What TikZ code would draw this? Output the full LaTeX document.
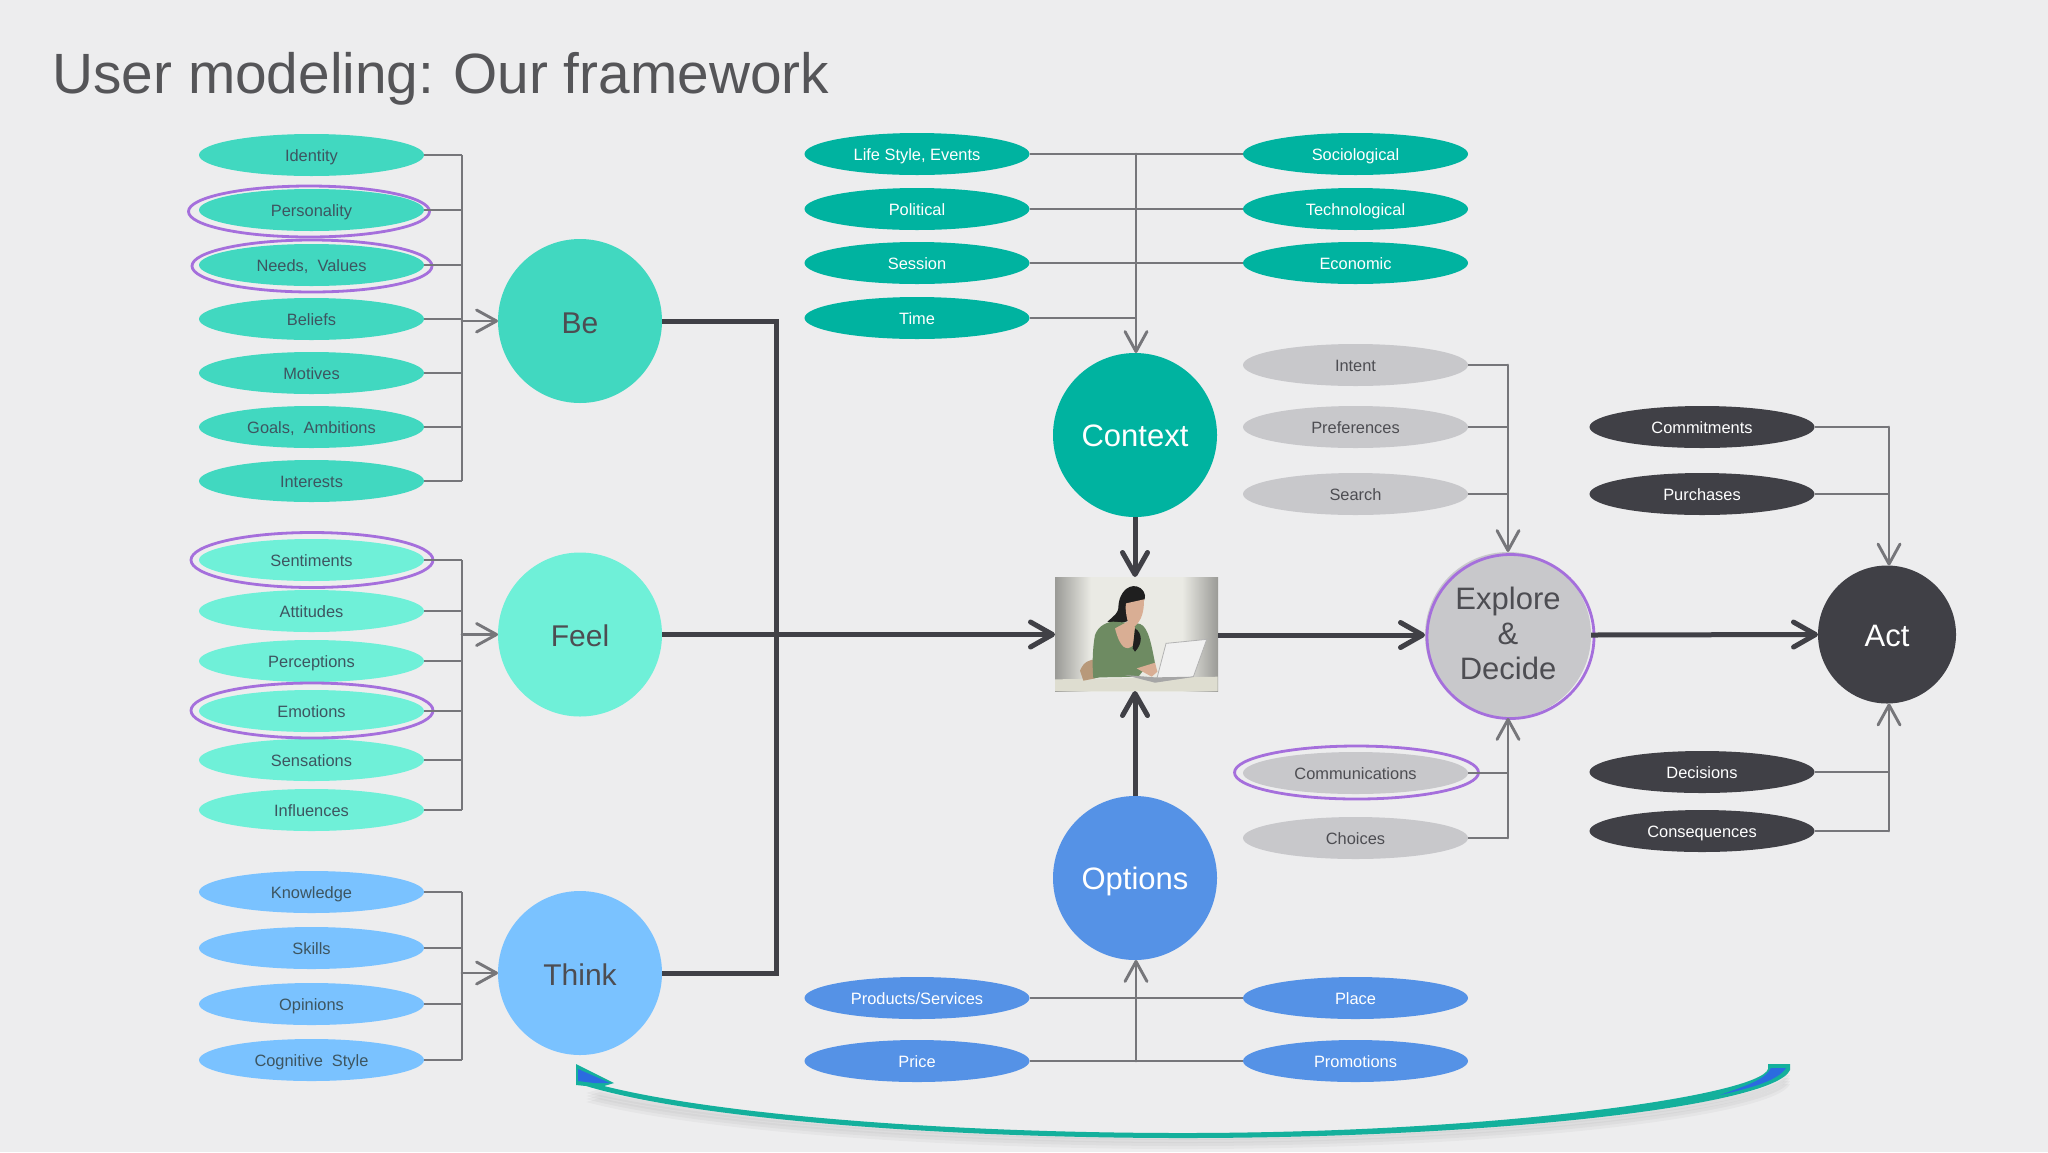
\documentclass[tikz,border=0pt]{standalone}
\usepackage{fontspec}
\setmainfont{Liberation Sans}
\usetikzlibrary{shapes.geometric,arrows.meta,calc}
\definecolor{bgc}{HTML}{EDEDEE}
\definecolor{tealA}{HTML}{41D8C0}
\definecolor{mintA}{HTML}{6FF0D8}
\definecolor{skyA}{HTML}{7AC2FF}
\definecolor{tealB}{HTML}{00B3A0}
\definecolor{blueB}{HTML}{5592E6}
\definecolor{greyA}{HTML}{C8C8CB}
\definecolor{darkA}{HTML}{404046}
\definecolor{ringc}{HTML}{A56FDC}
\definecolor{linec}{HTML}{76767A}
\definecolor{inkA}{HTML}{3D5560}
\definecolor{inkB}{HTML}{4D4D52}
\definecolor{titlec}{HTML}{555558}
\definecolor{swoopT}{HTML}{14B09C}
\definecolor{swoopB}{HTML}{2B6BE0}
\definecolor{photoA}{HTML}{EAEAE4}
\definecolor{photoB}{HTML}{9A9A96}
\definecolor{tableC}{HTML}{DEDDD0}
\definecolor{greenC}{HTML}{6E8B62}
\definecolor{skinC}{HTML}{D9AE94}
\pgfdeclarehorizontalshading{photoshade}{100bp}{color(0bp)=(photoB); color(25bp)=(photoB); color(36bp)=(photoA); color(64bp)=(photoA); color(75bp)=(photoB); color(100bp)=(photoB)}
\tikzset{
  pill/.style={shape=ellipse,minimum width=112.5pt,minimum height=21pt,inner sep=0pt,outer sep=0pt,font=\fontsize{8.2}{10}\selectfont,text height=7.4pt,text depth=1pt},
  pBe/.style={pill,fill=tealA,text=inkA},
  pFeel/.style={pill,fill=mintA,text=inkA},
  pThink/.style={pill,fill=skyA,text=inkA},
  pCtx/.style={pill,fill=tealB,text=white},
  pOpt/.style={pill,fill=blueB,text=white},
  pGrey/.style={pill,fill=greyA,text=inkB},
  pDark/.style={pill,fill=darkA,text=white},
  hub/.style={shape=circle,minimum size=82pt,inner sep=0pt,outer sep=0pt,font=\fontsize{15.5}{17.5}\selectfont},
  hubone/.style={hub,text height=13.4pt,text depth=1.6pt},
  hubsoft/.style={hub,text height=14pt,text depth=1.6pt,font=\fontsize{15}{17}\selectfont},
  ring/.style={shape=ellipse,draw=ringc,line width=1.4pt,inner sep=0pt,outer sep=0pt},
  stem/.style={draw=linec,line width=1.45pt},
  garrow/.style={stem,line cap=round,-{Straight Barb[length=10pt,width=11pt,round]}},
  tarrow/.style={draw=darkA,line width=2.5pt,-{Straight Barb[length=11pt,width=12.5pt,round]}},
  thick line/.style={draw=darkA,line width=2.5pt},
}
\begin{document}
\begin{tikzpicture}[x=0.5pt,y=-0.5pt]
\useasboundingbox (0,0) rectangle (2048,1152);
\fill[bgc] (0,0) rectangle (2048,1152);
\node[anchor=base west,inner sep=0pt,text=titlec,font=\fontsize{28.4}{30}\selectfont] (title) at (52,93) {User modeling:\hspace{9.6pt}Our framework};

% hubs
\node[hubsoft,fill=tealA,text=inkB] (be) at (580,321) {Be};
\node[hubsoft,fill=mintA,text=inkB] (feel) at (580,634.5) {Feel};
\node[hubsoft,fill=skyA,text=inkB] (think) at (580,973) {Think};
\node[hubone,fill=tealB,text=white] (context) at (1135,435) {Context};
\node[hubone,fill=blueB,text=white] (options) at (1135,878) {Options};
\node[hub,fill=greyA,text=inkB,minimum size=83pt,align=center] (explore) at (1508,635) {Explore\\[0pt]\&\\[0pt]Decide\rule[-2pt]{0pt}{0pt}};
\node[hubone,fill=darkA,text=white,minimum size=69pt] (act) at (1887,634.5) {Act};

% photo
\node[shape=rectangle,minimum width=81.5pt,minimum height=57pt,inner sep=0pt,outer sep=0pt] (photo) at (1136.5,634) {};
\begin{scope}
\clip (photo.south west) rectangle (photo.north east);
\shade[shading=photoshade] (photo.south west) rectangle (photo.north east);
\begin{scope}[shift={(1020,540)},x=0.1667pt,y=-0.1667pt]
\fill[tableC] (105,418) -- (593,410) -- (593,453) -- (105,453) -- cycle;
\fill[brown!60!gray!80!white] (180,392) .. controls (190,365) and (210,358) .. (228,358) -- (225,415) -- (190,422) -- cycle;
\fill[black!88] (295,205) .. controls (295,150) and (335,125) .. (362,145) .. controls (380,160) and (375,175) .. (372,180) -- (345,190) -- (335,240) -- (300,250) -- (262,245) .. controls (285,225) and (292,220) .. (295,205) -- cycle;
\fill[greenC] (225,285) .. controls (235,255) and (265,245) .. (280,245) -- (350,250) .. controls (380,250) and (390,290) .. (405,370) -- (375,385) -- (355,410) -- (240,412) -- (220,415) .. controls (215,360) and (220,310) .. (225,285) -- cycle;
\fill[skinC] (318,190) -- (372,178) .. controls (372,215) and (365,240) .. (345,258) -- (328,262) -- (322,240) .. controls (318,220) and (315,205) .. (318,190) -- cycle;
\fill[skinC] (285,265) -- (322,245) -- (345,260) -- (340,315) .. controls (320,335) and (300,325) .. (285,265) -- cycle;
\fill[black!88] (345,265) .. controls (368,280) and (368,310) .. (345,335) -- (338,325) -- cycle;
\fill[skinC] (350,385) -- (405,368) -- (412,395) -- (395,410) -- cycle;
\fill[black!6!white,draw=black!30!white,line width=.4pt] (438,310) -- (560,298) -- (520,410) -- (408,425) -- cycle;
\fill[black!35!white] (315,405) -- (405,412) -- (520,410) -- (405,428) -- cycle;
\end{scope}
\end{scope}

% Be group
\node[pBe] (identity) at (311.5,155) {Identity};
\node[pBe] (personality) at (311.5,210) {Personality};
\node[pBe] (needs) at (311.5,265) {Needs,\ \ Values};
\node[pBe] (beliefs) at (311.5,319) {Beliefs};
\node[pBe] (motives) at (311.5,373) {Motives};
\node[pBe] (goals) at (311.5,427) {Goals,\ \ Ambitions};
\node[pBe] (interests) at (311.5,481) {Interests};
% Feel group
\node[pFeel] (sentiments) at (311.5,560) {Sentiments};
\node[pFeel] (attitudes) at (311.5,611) {Attitudes};
\node[pFeel] (perceptions) at (311.5,661) {Perceptions};
\node[pFeel] (emotions) at (311.5,711) {Emotions};
\node[pFeel] (sensations) at (311.5,760) {Sensations};
\node[pFeel] (influences) at (311.5,810) {Influences};
% Think group
\node[pThink] (knowledge) at (311.5,892) {Knowledge};
\node[pThink] (skills) at (311.5,948) {Skills};
\node[pThink] (opinions) at (311.5,1004) {Opinions};
\node[pThink] (cognitive) at (311.5,1060) {Cognitive\ \ Style};
% Context group
\node[pCtx] (lifestyle) at (917,154) {Life Style, Events};
\node[pCtx] (political) at (917,209) {Political};
\node[pCtx] (session) at (917,263) {Session};
\node[pCtx] (time) at (917,318) {Time};
\node[pCtx] (sociological) at (1355.5,154) {Sociological};
\node[pCtx] (technological) at (1355.5,209) {Technological};
\node[pCtx] (economic) at (1355.5,263) {Economic};
% Options group
\node[pOpt] (products) at (917,998) {Products/Services};
\node[pOpt] (price) at (917,1061) {Price};
\node[pOpt] (place) at (1355.5,998) {Place};
\node[pOpt] (promotions) at (1355.5,1061) {Promotions};
% Grey group
\node[pGrey] (intent) at (1355.5,365) {Intent};
\node[pGrey] (preferences) at (1355.5,427) {Preferences};
\node[pGrey] (search) at (1355.5,494) {Search};
\node[pGrey] (communications) at (1355.5,773) {Communications};
\node[pGrey] (choices) at (1355.5,838) {Choices};
% Dark group
\node[pDark] (commitments) at (1702,427) {Commitments};
\node[pDark] (purchases) at (1702,494) {Purchases};
\node[pDark] (decisions) at (1702,772) {Decisions};
\node[pDark] (consequences) at (1702,831) {Consequences};

% rings
\node[ring,minimum width=120.5pt,minimum height=25.5pt] (ringA) at (309,211.5) {};
\node[ring,minimum width=120pt,minimum height=26pt] (ringB) at (312,266) {};
\node[ring,minimum width=121pt,minimum height=27.5pt] (ringC) at (312,560) {};
\node[ring,minimum width=121pt,minimum height=27.5pt] (ringD) at (312,710.5) {};
\node[ring,minimum width=122pt,minimum height=26.5pt] (ringE) at (1356.5,772.5) {};
\node[ring,minimum width=83.5pt,minimum height=82pt] (ringF) at (1510.5,636.5) {};

% buses
\coordinate (busBe) at (462,0);
\coordinate (busThick) at (776,0);
\coordinate (busCtx) at (1136,0);
\coordinate (busGrey) at (1508,0);
\coordinate (busAct) at (1889,0);

% Be connectors
\foreach \n in {identity,personality,needs,beliefs,motives,goals,interests}
  \draw[stem] (\n.east) -- (\n.east -| busBe);
\draw[stem] (identity.east -| busBe) -- (interests.east -| busBe);
\draw[garrow] (busBe |- be) -- (be.west);
% Feel connectors
\foreach \n in {sentiments,attitudes,perceptions,emotions,sensations,influences}
  \draw[stem] (\n.east) -- (\n.east -| busBe);
\draw[stem] (sentiments.east -| busBe) -- (influences.east -| busBe);
\draw[garrow] (busBe |- feel) -- (feel.west);
% Think connectors
\foreach \n in {knowledge,skills,opinions,cognitive}
  \draw[stem] (\n.east) -- (\n.east -| busBe);
\draw[stem] (knowledge.east -| busBe) -- (cognitive.east -| busBe);
\draw[garrow] (busBe |- think) -- (think.west);
% Context connectors
\foreach \n in {lifestyle,political,session,time}
  \draw[stem] (\n.east) -- (\n.east -| busCtx);
\foreach \n in {sociological,technological,economic}
  \draw[stem] (\n.west) -- (\n.west -| busCtx);
\draw[garrow] (busCtx |- lifestyle) -- (busCtx |- context.north);
% Options connectors
\foreach \n in {products,price}
  \draw[stem] (\n.east) -- (\n.east -| busCtx);
\foreach \n in {place,promotions}
  \draw[stem] (\n.west) -- (\n.west -| busCtx);
\draw[garrow] (busCtx |- price) -- (busCtx |- options.south);
% Grey connectors
\foreach \n in {intent,preferences,search,communications,choices}
  \draw[stem] (\n.east) -- (\n.east -| busGrey);
\draw[garrow] (busGrey |- intent) -- (explore.north);
\draw[garrow] (busGrey |- choices) -- (explore.south);
% Dark connectors
\foreach \n in {commitments,purchases,decisions,consequences}
  \draw[stem] (\n.east) -- (\n.east -| busAct);
\draw[garrow] (busAct |- commitments) -- (busAct |- act.north);
\draw[garrow] (busAct |- consequences) -- (busAct |- act.south);
% thick connectors
\draw[thick line,line cap=butt] (be.east) -- (be.east -| busThick) -- (think.east -| busThick) -- (think.east);
\draw[tarrow] (feel.east) -- (photo.west |- feel.east);
\draw[tarrow] (context.south) -- (photo.north -| context.south);
\draw[tarrow] (options.north) -- (photo.south -| options.north);
\draw[tarrow] (photo.east |- explore.west) -- (explore.west);
\draw[tarrow] (explore.east) -- (act.west);

% swoosh shadow
\foreach \d in {3,6,9,12}
  \fill[black,opacity=.03,shift={(0,\d)}] (586,1090) .. controls (700,1120) and (950,1137) .. (1183,1137) .. controls (1500,1137) and (1775,1105) .. (1790,1072) -- (1784,1072) .. controls (1760,1097) and (1500,1130) .. (1183,1130) .. controls (950,1130) and (720,1112) .. (600,1086) -- cycle;
% swoosh
\fill[swoopT] (1768,1064) -- (1790,1064) -- (1790,1070) .. controls (1775,1105) and (1500,1138) .. (1183,1138) .. controls (950,1138) and (700,1120) .. (586,1086) -- (576,1085) -- (576,1064) -- (614,1083) -- (604,1086) .. controls (720,1115) and (950,1133) .. (1183,1133) .. controls (1500,1133) and (1760,1095) .. (1768,1069) -- cycle;
\fill[swoopB] (578,1069) -- (610,1083) -- (594,1083) -- (578,1081) -- cycle;
\fill[swoopB] (1771,1068) -- (1786,1068) .. controls (1778,1080) and (1755,1087) .. (1720,1095) .. controls (1745,1086) and (1765,1080) .. (1771,1068) -- cycle;
\end{tikzpicture}
\end{document}
